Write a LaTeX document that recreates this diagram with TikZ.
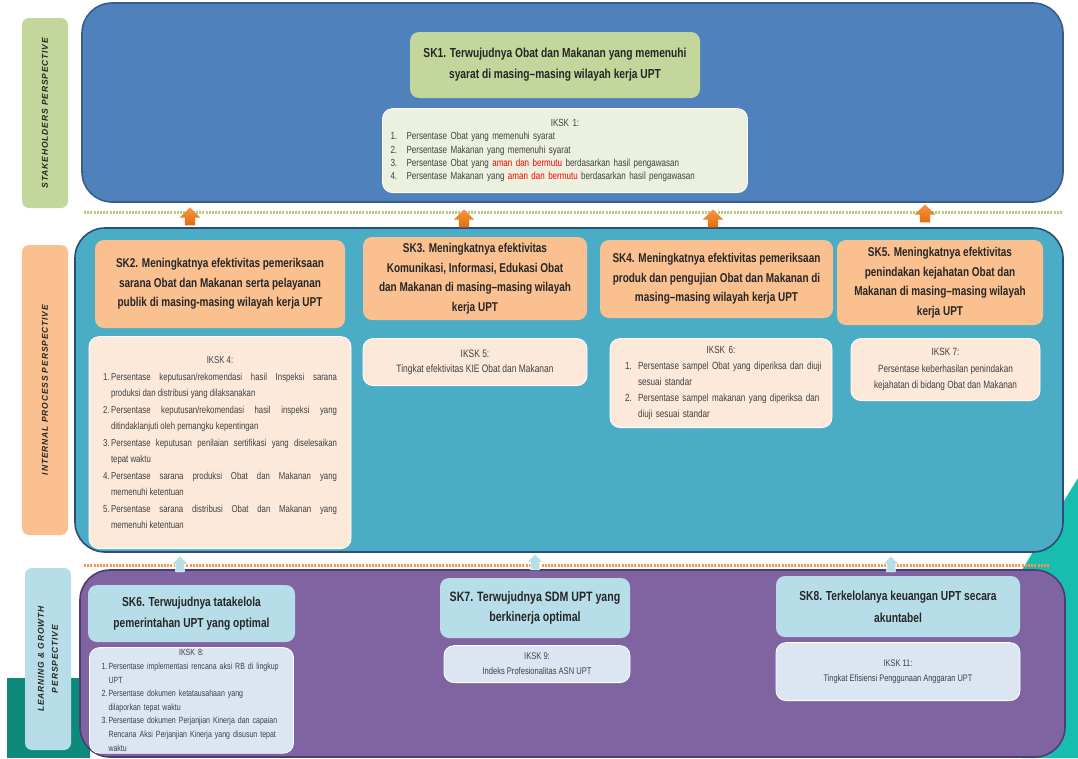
\documentclass[tikz,border=0pt]{standalone}
\usepackage{fontspec}
\setmainfont{Liberation Sans}
\newfontfamily\narrowfont{Liberation Sans}[FakeStretch=0.78]
\newfontfamily\perspfont{Liberation Sans}[LetterSpace=10]
\usetikzlibrary{positioning,shapes.arrows}

\definecolor{bluepanel}{HTML}{4F81BD}
\definecolor{blueedge}{HTML}{385D8A}
\definecolor{tealpanel}{HTML}{4BACC6}
\definecolor{tealedge}{HTML}{2C4D75}
\definecolor{purplepanel}{HTML}{8064A2}
\definecolor{purpleedge}{HTML}{4B3D74}
\definecolor{skgreen}{HTML}{C3D69B}
\definecolor{ikgreen}{HTML}{EBF1DE}
\definecolor{skorange}{HTML}{FAC090}
\definecolor{ikorange}{HTML}{FDE9D9}
\definecolor{skblue}{HTML}{B7DEE8}
\definecolor{ikblue}{HTML}{DCE6F2}
\definecolor{arrdark}{HTML}{E46C0A}
\definecolor{arrlight}{HTML}{F79646}
\definecolor{dotgreen}{HTML}{B3CC7A}
\definecolor{bgteal}{HTML}{17BDAE}
\definecolor{bgdark}{HTML}{0E8A7C}
\definecolor{titletext}{HTML}{262626}
\definecolor{listtext}{HTML}{404040}
\definecolor{hilite}{HTML}{FF0000}

\newcommand{\iknum}[2][16pt]{\makebox[#1][l]{#2}}
\newcommand{\jitem}[3]{\hangindent=8pt\hangafter=1 #1\,#2\linebreak #3\par}

\tikzset{
  panel/.style={draw=#1, line width=1.6pt, rounded corners=30pt},
  persp/.style={fill=#1, rounded corners=7pt, rotate=90, minimum height=46pt,
    align=center, text=titletext, font=\perspfont\bfseries\itshape\fontsize{8.5}{14}\selectfont},
  skbox/.style={fill=#1, rounded corners=9pt, align=center, text=titletext,
    font=\narrowfont\bfseries\fontsize{12.8}{19.5}\selectfont},
  ikbox/.style={fill=#1, draw=white, line width=0.8pt, rounded corners=10pt,
    text=listtext, execute at begin node={\parindent=0pt}},
  uparr/.style={single arrow, shape border rotate=90, inner sep=5pt,
    single arrow head extend=5pt, minimum height=18pt, minimum width=20pt},
}

\begin{document}
\begin{tikzpicture}[x=1pt,y=-1pt]
  \useasboundingbox (0,0) rectangle (1078,758);
  % background
  \fill[bgteal] (1078,478) -- (1022,570) -- (1022,758) -- (1078,758) -- cycle;
  \fill[bgdark] (7,678) rectangle (90,758);

  % perspective labels
  \node[persp=skgreen, minimum width=190pt] (lstake) at (45,113) {STAKEHOLDERS PERSPECTIVE};
  \node[persp=skorange, minimum width=290pt] (linternal) at (45,390) {INTERNAL PROCESS PERSPECTIVE};
  \node[persp=skblue, minimum width=182pt] (llearn) at (48,659) {LEARNING \& GROWTH\\PERSPECTIVE};

  % panels
  \node[panel=blueedge, fill=bluepanel, minimum width=981pt, minimum height=199pt] (stake) at (572.5,102.5) {};
  \node[panel=tealedge, fill=tealpanel, minimum width=988pt, minimum height=324pt] (internal) at (569,390) {};
  \node[panel=purpleedge, fill=purplepanel, minimum width=985pt, minimum height=187pt] (learn) at (572.5,663.5) {};

  % separators
  \draw[dotgreen, line width=3pt, dash pattern=on 2pt off 1.2pt] (84,212) -- (1062,212);
  \draw[arrlight, line width=3pt, dash pattern=on 2pt off 1.2pt] (84,565) -- (1050,565);

  % stakeholders
  \node[skbox=skgreen, minimum width=290pt, minimum height=66pt,
    font=\narrowfont\bfseries\fontsize{13.1}{21}\selectfont] (sk1) at (555,65)
    {SK1. Terwujudnya Obat dan Makanan yang memenuhi\\syarat di masing–masing  wilayah kerja UPT};
  \node[ikbox=ikgreen, minimum width=365pt, minimum height=84pt, text width=349pt, align=left,
    font=\narrowfont\fontsize{10.3}{13.3}\selectfont, below=10pt of sk1, xshift=10pt] (iksk1) {%
    {\centering IKSK 1:\par}
    \iknum{1.}Persentase Obat yang memenuhi syarat\\
    \iknum{2.}Persentase Makanan yang memenuhi syarat\\
    \iknum{3.}Persentase Obat yang \textcolor{hilite}{aman dan bermutu} berdasarkan hasil pengawasan\\
    \iknum{4.}Persentase Makanan yang \textcolor{hilite}{aman dan bermutu} berdasarkan hasil pengawasan};

  % internal process
  \node[skbox=skorange, minimum width=250pt, minimum height=88pt] (sk2) at (220,284)
    {SK2. Meningkatnya efektivitas pemeriksaan\\sarana Obat dan Makanan serta pelayanan\\publik di masing-masing  wilayah kerja UPT};
  \node[ikbox=ikorange, minimum width=262pt, minimum height=212pt, text width=234pt, align=justify,
    font=\narrowfont\fontsize{10}{16.5}\selectfont, below=8pt of sk2] (iksk4) {%
    {\centering IKSK 4:\par}
    \jitem{1.}{Persentase keputusan/rekomendasi hasil Inspeksi sarana}{produksi dan distribusi yang dilaksanakan}
    \jitem{2.}{Persentase keputusan/rekomendasi hasil inspeksi yang}{ditindaklanjuti oleh pemangku kepentingan}
    \jitem{3.}{Persentase keputusan penilaian sertifikasi yang diselesaikan}{tepat waktu}
    \jitem{4.}{Persentase sarana produksi Obat dan Makanan yang}{memenuhi ketentuan}
    \jitem{5.}{Persentase sarana distribusi Obat  dan Makanan yang}{memenuhi ketentuan}};

  \node[skbox=skorange, minimum width=224pt, minimum height=83pt] (sk3) at (475,278.5)
    {SK3. Meningkatnya efektivitas\\Komunikasi, Informasi, Edukasi Obat\\dan Makanan di masing–masing  wilayah\\kerja UPT};
  \node[ikbox=ikorange, minimum width=224pt, minimum height=47pt, align=center,
    font=\narrowfont\fontsize{10.8}{15}\selectfont, below=18pt of sk3] (iksk5)
    {IKSK 5:\\Tingkat efektivitas KIE Obat dan Makanan};

  \node[skbox=skorange, minimum width=233pt, minimum height=78pt] (sk4) at (716.5,279)
    {SK4. Meningkatnya efektivitas pemeriksaan\\produk dan pengujian Obat dan Makanan di\\masing–masing  wilayah kerja UPT};
  \node[ikbox=ikorange, minimum width=222pt, minimum height=89pt, text width=206pt, align=left,
    font=\narrowfont\fontsize{10.4}{16}\selectfont, below=20pt of sk4, xshift=4.5pt] (iksk6) {%
    {\centering IKSK 6:\par}
    \hspace*{7pt}\iknum[13pt]{1.}Persentase sampel Obat yang diperiksa dan diuji\\
    \hspace*{20pt}sesuai standar\\
    \hspace*{7pt}\iknum[13pt]{2.}Persentase sampel makanan yang diperiksa dan\\
    \hspace*{20pt}diuji sesuai standar};

  \node[skbox=skorange, minimum width=206pt, minimum height=85pt] (sk5) at (940,282.5)
    {SK5. Meningkatnya efektivitas\\penindakan kejahatan Obat dan\\Makanan di masing–masing  wilayah\\kerja UPT};
  \node[ikbox=ikorange, minimum width=189pt, minimum height=62pt, align=center,
    font=\narrowfont\fontsize{10.5}{16.5}\selectfont, below=13pt of sk5, xshift=5.5pt] (iksk7)
    {IKSK 7:\\Persentase keberhasilan penindakan\\kejahatan di bidang Obat dan Makanan};

  % learning and growth
  \node[skbox=skblue, minimum width=207pt, minimum height=57pt,
    font=\narrowfont\bfseries\fontsize{13.1}{21}\selectfont] (sk6) at (191.5,613.5)
    {SK6. Terwujudnya tatakelola\\pemerintahan UPT yang optimal};
  \node[ikbox=ikblue, minimum width=204pt, text width=190pt, align=left, inner sep=2pt,
    font=\narrowfont\fontsize{9}{13.6}\selectfont, below=5pt of sk6] (iksk8) {%
    {\centering IKSK 8:\par}
    \hspace*{5pt}\iknum[7pt]{1.}Persentase implementasi  rencana aksi RB di lingkup\\
    \hspace*{12pt}UPT\\
    \hspace*{5pt}\iknum[7pt]{2.}Persentase dokumen ketatausahaan  yang\\
    \hspace*{12pt}dilaporkan tepat waktu\\
    \hspace*{5pt}\iknum[7pt]{3.}Persentase dokumen Perjanjian Kinerja dan capaian\\
    \hspace*{12pt}Rencana Aksi Perjanjian Kinerja yang disusun tepat\\
    \hspace*{12pt}waktu};

  \node[skbox=skblue, minimum width=190pt, minimum height=60pt,
    font=\narrowfont\bfseries\fontsize{13.6}{20}\selectfont] (sk7) at (535,608)
    {SK7. Terwujudnya SDM UPT yang\\berkinerja optimal};
  \node[ikbox=ikblue, minimum width=186pt, minimum height=37pt, align=center,
    font=\narrowfont\fontsize{9.7}{15}\selectfont, below=7pt of sk7, xshift=2pt] (iksk9)
    {IKSK 9:\\Indeks Profesionalitas  ASN UPT};

  \node[skbox=skblue, minimum width=244pt, minimum height=61pt,
    font=\narrowfont\bfseries\fontsize{13.1}{22}\selectfont] (sk8) at (898,606.5)
    {SK8. Terkelolanya keuangan UPT secara\\akuntabel};
  \node[ikbox=ikblue, minimum width=244pt, minimum height=58pt, align=center,
    font=\narrowfont\fontsize{9.5}{15}\selectfont, below=5pt of sk8] (iksk11)
    {IKSK 11:\\Tingkat Efisiensi  Penggunaan Anggaran UPT};

  % up arrows
  \foreach \ax/\ay [count=\i] in {190/219, 464/221, 713/221, 925/216}
    \node[uparr, top color=arrlight, bottom color=arrdark] (up\i) at (\ax,\ay) {};
  \foreach \ax/\ay [count=\i] in {180/566, 535/564, 891/566}
    \node[uparr, fill=skblue, draw=white, line width=0.6pt, minimum height=16pt,
      minimum width=16pt, inner sep=4pt, single arrow head extend=4pt] (lo\i) at (\ax,\ay) {};
\end{tikzpicture}
\end{document}
